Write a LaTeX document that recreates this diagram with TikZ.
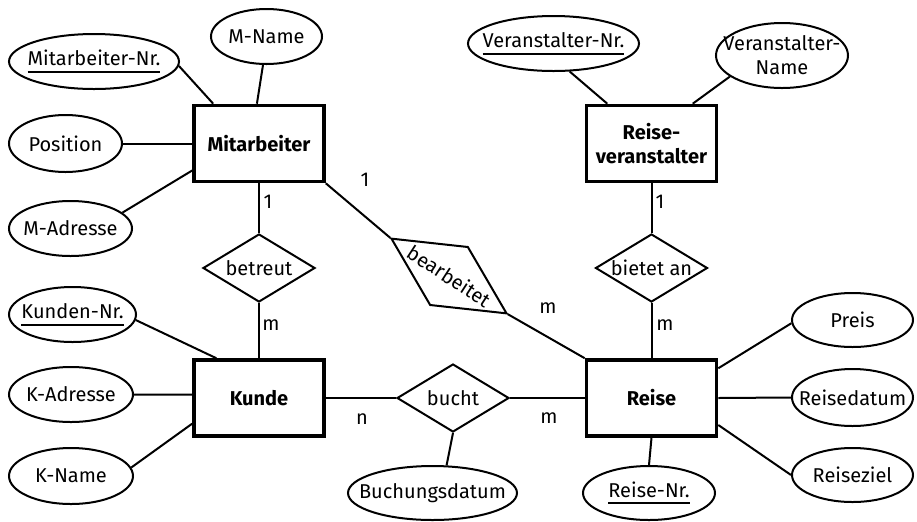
\documentclass[tikz,border=0pt]{standalone}
\usepackage{fontspec}
\setmainfont{Fira Sans}
\usetikzlibrary{shapes.geometric}
% underlined key attribute
\newcommand{\keyattr}[1]{\setbox0\hbox{#1}\rlap{\vrule height -2.6pt depth 3.6pt width \wd0}\box0}

\begin{document}
\begin{tikzpicture}[x=0.5pt,y=-0.5pt,line width=1pt,
    entity/.style={draw,line width=1.8pt,minimum width=65pt,minimum height=38pt,font=\bfseries,align=center,inner sep=1pt},
    attr/.style 2 args={draw,ellipse,inner xsep=-9pt,inner ysep=0pt,align=center,minimum width=#1,minimum height=#2},
    rel/.style={draw,diamond,aspect=1.7,inner sep=0pt,minimum width=56pt,minimum height=34pt},
    card/.style={inner sep=0pt}]
  \useasboundingbox (0,0) rectangle (917,521);
  % entities
  \draw (259,143.5) node[entity,name=mitarbeiter] {Mitarbeiter};
  \draw (259,398) node[entity,name=kunde] {Kunde};
  \draw (651.5,398) node[entity,name=reise] {Reise};
  \draw (651.5,143.5) node[entity,name=veranstalter] {Reise-\\veranstalter};
  % relations
  \draw (259,268) node[rel,name=betreut] {betreut};
  \draw (453,398) node[rel,name=bucht] {bucht};
  \draw (651.5,268) node[rel,name=bietet] {bietet an};
  \draw (449,276) node[rel,rotate=-33,aspect=2,minimum width=69pt,minimum height=35pt,name=bearbeitet] {bearbeitet};
  % attributes
  \draw (94,61.5) node[attr={85pt}{27.5pt},name=mnr] {\keyattr{Mitarbeiter-Nr.}};
  \draw (266.5,36.5) node[attr={55.5pt}{27.5pt},name=mname] {M-Name};
  \draw (65.5,143.5) node[attr={56.5pt}{28.5pt},name=position] {Position};
  \draw (70.5,228.5) node[attr={61.5pt}{27.5pt},name=madresse] {M-Adresse};
  \draw (72.5,314.5) node[attr={63.5pt}{27.5pt},name=knr] {\keyattr{Kunden-Nr.}};
  \draw (71,394.5) node[attr={62pt}{27.5pt},name=kadresse] {K-Adresse};
  \draw (71,476) node[attr={62pt}{28pt},name=kname] {K-Name};
  \draw (432.5,493) node[attr={84.5pt}{27pt},name=buchdatum] {Buchungsdatum};
  \draw (553.5,43.5) node[attr={85.5pt}{27.5pt},name=vnr] {\keyattr{Veranstalter-Nr.}};
  \draw (782,55.5) node[attr={66pt}{32.5pt},name=vname] {Veranstalter-\\Name};
  \draw (852.5,320) node[attr={60.5pt}{27pt},name=preis] {Preis};
  \draw (852.5,397.5) node[attr={60.5pt}{28.5pt},name=reisedatum] {Reisedatum};
  \draw (852.5,475) node[attr={60.5pt}{27pt},name=reiseziel] {Reiseziel};
  \draw (649,493) node[attr={66pt}{27pt},name=reisenr] {\keyattr{Reise-Nr.}};
  % attribute links
  \draw (mnr.-3) -- (mitarbeiter.139);
  \draw (mname.263) -- (mitarbeiter.93);
  \draw (position.east) -- (mitarbeiter.west);
  \draw (madresse.17) -- (mitarbeiter.202);
  \draw (knr.-5) -- (kunde.137);
  \draw (kadresse.east) -- (kunde.177);
  \draw (kname.8) -- (kunde.201);
  \draw (buchdatum.63) -- (bucht.south);
  \draw (vnr.300) -- (veranstalter.138);
  \draw (vname.202) -- (veranstalter.44);
  \draw (preis.183) -- (reise.24);
  \draw (reisedatum.west) -- (reise.east);
  \draw (reiseziel.west) -- (reise.338);
  \draw (reisenr.north) -- (reise.south);
  % relation links
  \draw (mitarbeiter.south) -- (betreut.north);
  \draw (betreut.south) -- (kunde.north);
  \draw (kunde.east) -- (bucht.west);
  \draw (bucht.east) -- (reise.west);
  \draw (veranstalter.south) -- (bietet.north);
  \draw (bietet.south) -- (reise.north);
  \draw (mitarbeiter.south east) -- (bearbeitet.west);
  \draw (bearbeitet.east) -- (reise.north west);
  % cardinalities
  \draw (268,202) node[card,name=c1] {1};
  \draw (271,325) node[card,name=c2] {m};
  \draw (365,180) node[card,name=c3] {1};
  \draw (548,308) node[card,name=c4] {m};
  \draw (660,202) node[card,name=c5] {1};
  \draw (665,325) node[card,name=c6] {m};
  \draw (362,419) node[card,name=c7] {n};
  \draw (549,418) node[card,name=c8] {m};
\end{tikzpicture}
\end{document}
